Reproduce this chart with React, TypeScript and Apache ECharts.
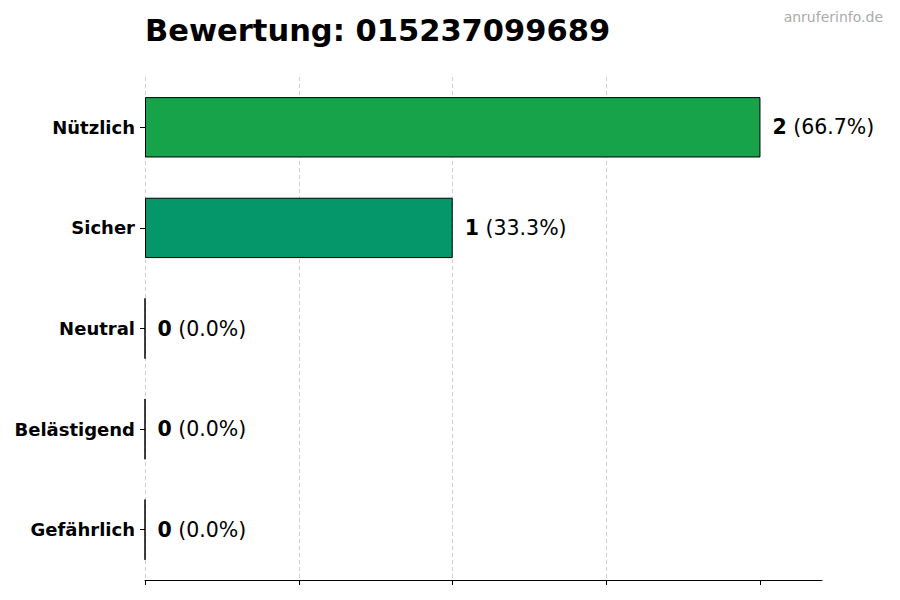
import React, { useEffect, useRef } from "react";
import * as echarts from "echarts";

const categories = ["Nützlich", "Sicher", "Neutral", "Belästigend", "Gefährlich"];
const values = [2, 1, 0, 0, 0];
const percents = ["66.7%", "33.3%", "0.0%", "0.0%", "0.0%"];
const colors = ["#16a34a", "#059669", "#6b7280", "#f97316", "#dc2626"];
const tickValues = [0, 0.5, 1, 1.5, 2];
const titleText = "Bewertung: 015237099689";
const watermark = "anruferinfo.de";

export default function App() {
  const ref = useRef<HTMLDivElement>(null);
  useEffect(() => {
    if (!ref.current) return;
    const chart = echarts.init(ref.current, null, { renderer: "svg" });
    const font = "'DejaVu Sans', sans-serif";
    chart.setOption({
      animation: false,
      textStyle: { fontFamily: font },
      title: {
        text: titleText,
        left: 140,
        top: 10,
        textStyle: { fontFamily: font, fontSize: 30.5, fontWeight: "bold", color: "#000" },
      },
      graphic: [
        {
          type: "text",
          right: 17,
          top: 10,
          style: { text: watermark, fontFamily: font, fontSize: 14, fill: "#aaaaaa" },
        },
      ],
      grid: { left: 145, right: 78, top: 77, bottom: 20, containLabel: false },
      xAxis: {
        type: "value",
        min: 0,
        max: 2.2,
        interval: 0.5,
        axisLine: { show: true, lineStyle: { color: "#000", width: 1 } },
        axisTick: { show: true, length: 5, customValues: tickValues, lineStyle: { color: "#000" } },
        axisLabel: { show: false },
        splitLine: {
          show: true,
          showMaxLine: false,
          lineStyle: { type: [4, 3], color: "#d0d0d0", width: 1 },
        },
      },
      yAxis: {
        type: "category",
        data: categories,
        inverse: true,
        axisLine: { show: false },
        axisTick: { show: true, length: 5, alignWithLabel: true, lineStyle: { color: "#000" } },
        axisLabel: {
          fontFamily: font,
          fontSize: 18,
          fontWeight: "bold",
          color: "#000",
          margin: 10,
        },
      },
      series: [
        {
          type: "bar",
          barWidth: "60%",
          data: values.map((v, i) => ({
            value: v,
            itemStyle: { color: colors[i], borderColor: "#000", borderWidth: 1 },
          })),
          label: {
            show: true,
            position: "right",
            distance: 12,
            formatter: (p: any) => `{b|${values[p.dataIndex]}}{n| (${percents[p.dataIndex]})}`,
            rich: {
              b: { fontFamily: font, fontSize: 20.5, fontWeight: "bold", color: "#000" },
              n: { fontFamily: font, fontSize: 20.5, color: "#000" },
            },
          },
        },
      ],
    });
    return () => chart.dispose();
  }, []);
  return <div ref={ref} style={{ width: 900, height: 600, margin: -8 }} />;
}
